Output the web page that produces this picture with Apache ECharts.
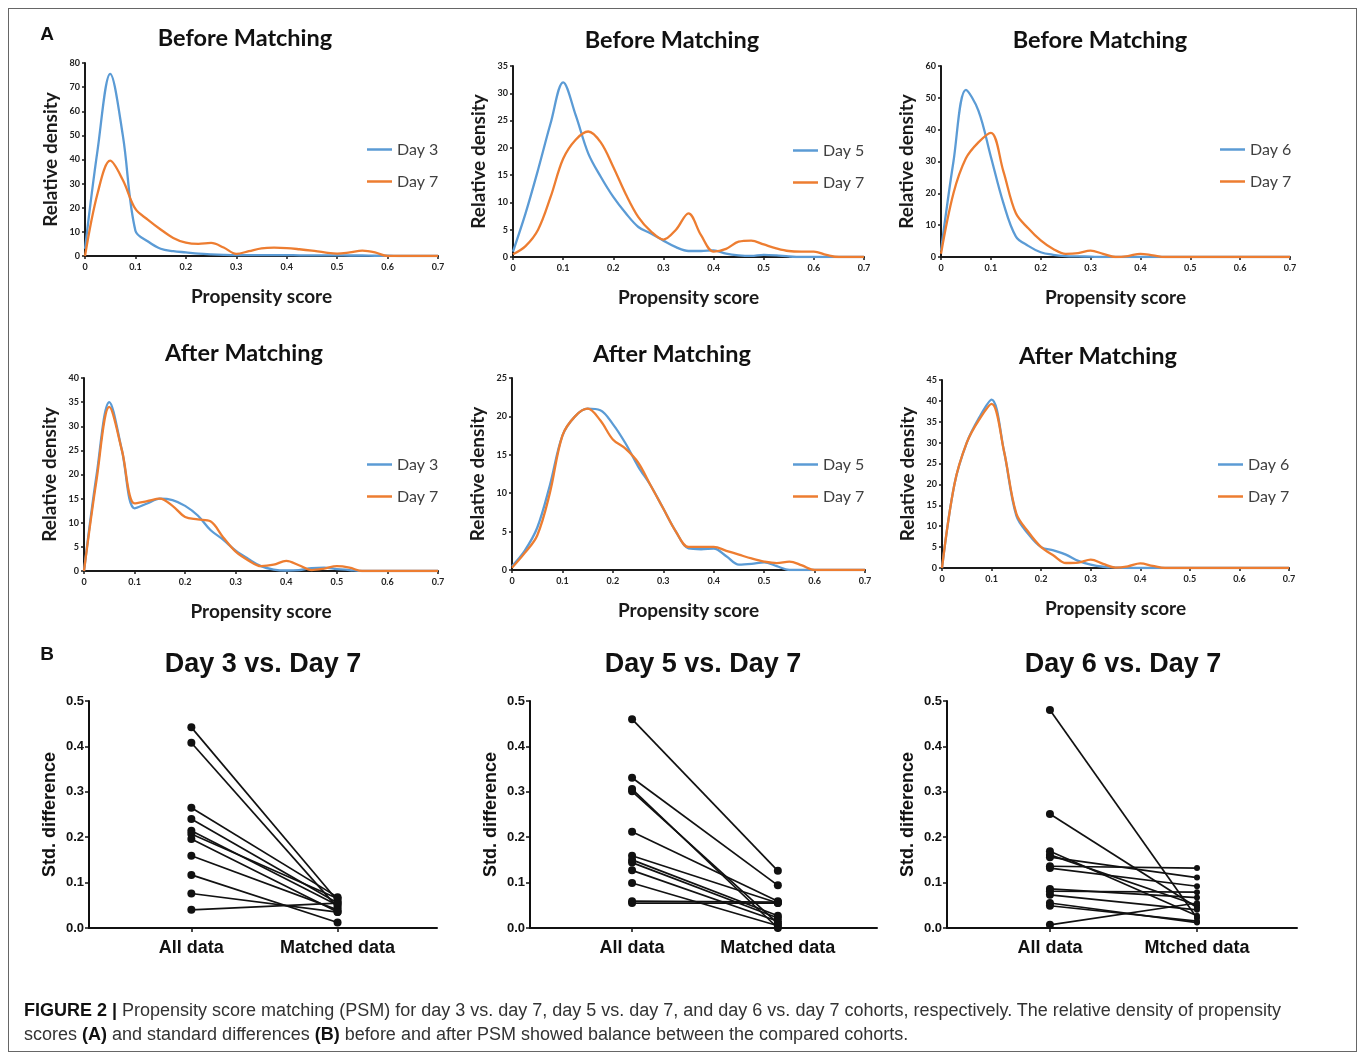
<!DOCTYPE html>
<html>
<head>
<meta charset="utf-8">
<script src="https://cdn.jsdelivr.net/npm/echarts@6/dist/echarts.min.js"></script>
<style>
  html, body { margin: 0; padding: 0; background: #fff; }
  #frame { position: absolute; left: 8px; top: 8px; width: 1349px; height: 1044px; box-sizing: border-box; border: 1.5px solid #666; }
  #chart { position: absolute; left: 0; top: 0; width: 1358px; height: 1053px; }
  #caption { position: absolute; left: 24px; top: 998px; font: 18px 'Liberation Sans', Arial, sans-serif; line-height: 24px; color: #333; white-space: nowrap; }
  #caption b { color: #111; }
</style>
</head>
<body>
<div id="frame"></div>
<div id="chart"></div>
<div id="caption"><b>FIGURE 2 |</b> Propensity score matching (PSM) for day 3 vs. day 7, day 5 vs. day 7, and day 6 vs. day 7 cohorts, respectively. The relative density of propensity<br>scores <b>(A)</b> and standard differences <b>(B)</b> before and after PSM showed balance between the compared cohorts.</div>
<script>
// propensity score grid shared by all density curves
const score = [0, 0.025, 0.05, 0.075, 0.1, 0.125, 0.15, 0.175, 0.2, 0.225, 0.25, 0.275, 0.3, 0.325, 0.35,
  0.375, 0.4, 0.425, 0.45, 0.475, 0.5, 0.525, 0.55, 0.575, 0.6, 0.625, 0.65, 0.675, 0.7]

// before matching
const beforeDay3 = [3, 44, 75.5, 50, 10.5, 6, 3, 2, 1.5, 1, 0.7, 0.5, 0.4, 0.4, 0.4, 0.4, 0.4, 0.3, 0.3, 0.3, 0.3, 0.2, 0.2, 0.1, 0.1, 0, 0, 0, 0]
const beforeDay7a = [0, 26, 39.5, 31.5, 19.5, 15, 11, 7.5, 5.5, 5, 5.4, 3.5, 0.9, 2, 3.2, 3.5, 3.3, 2.8, 2.2, 1.5, 1, 1.5, 2.2, 1.5, 0, 0, 0, 0, 0]
const beforeDay5 = [1, 8, 16, 24.5, 32, 26, 19, 14.7, 11, 8, 5.5, 4.3, 3, 1.8, 1.1, 1.1, 1.2, 0.6, 0.3, 0.2, 0.4, 0.3, 0.1, 0, 0, 0, 0, 0, 0]
const beforeDay7b = [0.5, 2, 5, 11, 18, 21.5, 23, 21, 16.5, 11.5, 7.3, 4.7, 3.2, 5, 8, 4, 1, 1.5, 2.8, 3, 2.3, 1.6, 1.1, 1, 1, 0.4, 0, 0, 0]
const beforeDay6 = [2, 30, 52.5, 46, 31.5, 17, 6.5, 3.5, 1.5, 0.7, 0.3, 0.2, 0.1, 0, 0, 0, 0, 0, 0, 0, 0, 0, 0, 0, 0, 0, 0, 0, 0]
const beforeDay7c = [1, 20, 31, 36, 39, 27, 13.8, 9, 5.2, 2.5, 1, 1.2, 2, 1, 0, 0.3, 1, 0.5, 0, 0, 0, 0, 0, 0, 0, 0, 0, 0, 0]

// after matching
const afterDay3 = [0, 20, 35, 25, 13, 14, 15, 14.7, 13.5, 11.5, 8.5, 6.5, 4.2, 2.5, 1, 0.3, 0.1, 0.2, 0.6, 0.7, 0.4, 0.2, 0, 0, 0, 0, 0, 0, 0]
const afterDay7a = [0, 19, 34, 25, 14, 14.5, 15, 13.5, 11.2, 10.7, 10.3, 7, 4, 2.2, 1, 1.3, 2.1, 1.2, 0.2, 0.5, 1, 0.7, 0, 0, 0, 0, 0, 0, 0]
const afterDay5 = [0.5, 2.5, 5.5, 11, 17.5, 20, 21, 20.8, 19, 16.5, 13.5, 11, 8, 5, 2.8, 2.7, 2.8, 1.8, 0.7, 0.8, 1, 0.5, 0, 0, 0, 0, 0, 0, 0]
const afterDay7b = [0.3, 2.2, 4.5, 10, 17.5, 20, 21, 19.5, 17, 15.8, 14, 11, 8, 5, 3, 3, 3, 2.5, 2, 1.5, 1.1, 0.9, 1.1, 0.6, 0, 0, 0, 0, 0]
const afterDay6 = [0, 20, 30, 36, 40.3, 28, 12.5, 8, 5, 4.2, 3.2, 1.7, 0.8, 0.3, 0.1, 0, 0, 0, 0, 0, 0, 0, 0, 0, 0, 0, 0, 0, 0]
const afterDay7c = [0, 20, 30, 35.5, 39.3, 28, 13, 8.5, 5, 3, 1.2, 1.3, 2, 1, 0.1, 0.4, 1.1, 0.5, 0, 0, 0, 0, 0, 0, 0, 0, 0, 0, 0]

// standardized differences, paired by index
const allDay3 = [0.442, 0.408, 0.265, 0.240, 0.214, 0.207, 0.196, 0.159, 0.117, 0.076, 0.040]
const matchedDay3 = [0.060, 0.045, 0.068, 0.055, 0.050, 0.065, 0.035, 0.040, 0.012, 0.035, 0.055]
const allDay5 = [0.460, 0.331, 0.306, 0.301, 0.212, 0.159, 0.150, 0.144, 0.127, 0.099, 0.059, 0.055]
const matchedDay5 = [0.126, 0.094, 0.000, 0.010, 0.059, 0.055, 0.027, 0.022, 0.015, 0.005, 0.057, 0.055]
const allDay6 = [0.480, 0.251, 0.169, 0.161, 0.156, 0.136, 0.132, 0.086, 0.081, 0.073, 0.055, 0.049, 0.007]
const matchedDay6 = [0.022, 0.045, 0.027, 0.050, 0.111, 0.132, 0.092, 0.067, 0.079, 0.040, 0.012, 0.015, 0.055]

const densityTitles = ['Before Matching', 'Before Matching', 'Before Matching', 'After Matching', 'After Matching', 'After Matching']
const earlyNames = ['Day 3', 'Day 5', 'Day 6', 'Day 3', 'Day 5', 'Day 6']
const earlyCurves = [beforeDay3, beforeDay5, beforeDay6, afterDay3, afterDay5, afterDay6]
const day7Curves = [beforeDay7a, beforeDay7b, beforeDay7c, afterDay7a, afterDay7b, afterDay7c]
const yMaxA = [80, 35, 60, 40, 25, 45]
const yStepA = [10, 5, 10, 5, 5, 5]

const pairTitles = ['Day 3 vs. Day 7', 'Day 5 vs. Day 7', 'Day 6 vs. Day 7']
const pairLabels = [['All data', 'Matched data'], ['All data', 'Matched data'], ['All data', 'Mtched data']]
const allData = [allDay3, allDay5, allDay6]
const matchedData = [matchedDay3, matchedDay5, matchedDay6]

const BLUE = '#5b9bd5'
const ORANGE = '#ed7d31'
const INK = '#1a1a1a'
const CAL = 'Lato, "Open Sans", sans-serif'
const ARIAL = '"Liberation Sans", Arial, sans-serif'

const gridsA = [
  { left: 85, top: 63, width: 353, height: 193 },
  { left: 513, top: 66, width: 351, height: 191 },
  { left: 941, top: 66, width: 349, height: 191 },
  { left: 84, top: 378, width: 354, height: 193 },
  { left: 512, top: 378, width: 353, height: 192 },
  { left: 942, top: 380, width: 347, height: 188 },
]
const gridsB = [
  { left: 89, top: 701, width: 348, height: 227 },
  { left: 530, top: 701, width: 347, height: 227 },
  { left: 947, top: 701, width: 350, height: 227 },
]
const legendPos = [[362, 136], [788, 137], [1215, 136], [362, 451], [788, 451], [1213, 451]]
const titlePosA = [[245, 38], [672, 40], [1100, 40], [244, 353], [672, 354], [1098, 356]]
const titlePosB = [[263, 665], [703, 665], [1123, 665]]

const chart = echarts.init(document.getElementById('chart'))

const grid = [...gridsA, ...gridsB].map((g) => ({ ...g, containLabel: false, outerBoundsMode: 'none' }))
const xAxis = []
const yAxis = []
const series = []
const legend = []

gridsA.forEach((g, i) => {
  xAxis.push({
    gridIndex: i, type: 'value', min: 0, max: 0.7, interval: 0.1,
    name: 'Propensity score', nameLocation: 'middle', nameGap: 31,
    nameTextStyle: { fontFamily: CAL, fontWeight: 'bold', fontSize: 19, color: INK },
    axisLine: { show: true, onZero: false, lineStyle: { color: INK, width: 2 } },
    axisTick: { show: true, length: 3, lineStyle: { color: INK, width: 1.5 } },
    axisLabel: { margin: 7, fontFamily: CAL, fontWeight: 'bold', fontSize: 9, color: '#222',
      formatter: (v) => (v === 0 ? '0' : v.toFixed(1)) },
    splitLine: { show: false },
  })
  yAxis.push({
    gridIndex: i, type: 'value', min: 0, max: yMaxA[i], interval: yStepA[i],
    name: 'Relative density', nameLocation: 'middle', nameGap: 25, nameRotate: 90,
    nameTextStyle: { fontFamily: CAL, fontWeight: 'bold', fontSize: 19, color: INK },
    axisLine: { show: true, lineStyle: { color: INK, width: 2 } },
    axisTick: { show: true, length: 3, lineStyle: { color: INK, width: 1.5 } },
    axisLabel: { margin: 5, fontFamily: CAL, fontWeight: 'bold', fontSize: 9, color: '#222' },
    splitLine: { show: false },
  })
  ;[[earlyNames[i], earlyCurves[i], BLUE], ['Day 7', day7Curves[i], ORANGE]].forEach(([name, vals, color]) => {
    series.push({
      type: 'line', name, xAxisIndex: i, yAxisIndex: i,
      data: score.map((s, k) => [s, vals[k]]),
      smooth: 0.35, symbol: 'none', silent: true,
      lineStyle: { color, width: 2.3 }, itemStyle: { color },
    })
  })
  legend.push({
    orient: 'vertical', left: legendPos[i][0], top: legendPos[i][1],
    data: [earlyNames[i], 'Day 7'], icon: 'rect', itemWidth: 25, itemHeight: 2.5, itemGap: 15,
    textStyle: { fontFamily: CAL, fontSize: 16, color: '#404040', lineHeight: 17 },
    selectedMode: false,
  })
})

gridsB.forEach((g, j) => {
  const gi = gridsA.length + j
  xAxis.push({
    gridIndex: gi, type: 'value', min: 0.3, max: 2.68,
    axisLine: { show: true, onZero: false, lineStyle: { color: '#111', width: 2 } },
    axisTick: { show: true, customValues: [1, 2], length: 4, lineStyle: { color: '#111', width: 1.5 } },
    axisLabel: { customValues: [1, 2], margin: 11, fontFamily: ARIAL, fontWeight: 'bold', fontSize: 18, color: '#111',
      formatter: (v) => pairLabels[j][Math.round(v) - 1] },
    splitLine: { show: false },
  })
  yAxis.push({
    gridIndex: gi, type: 'value', min: 0, max: 0.5, interval: 0.1,
    name: 'Std. difference', nameLocation: 'middle', nameGap: 30, nameRotate: 90,
    nameTextStyle: { fontFamily: ARIAL, fontWeight: 'bold', fontSize: 18, color: '#111' },
    axisLine: { show: true, lineStyle: { color: '#111', width: 2 } },
    axisTick: { show: true, length: 4, lineStyle: { color: '#111', width: 1.5 } },
    axisLabel: { margin: 5, fontFamily: ARIAL, fontWeight: 'bold', fontSize: 13, color: '#111',
      formatter: (v) => v.toFixed(1) },
    splitLine: { show: false },
  })
  allData[j].forEach((a, k) => {
    series.push({
      type: 'line', xAxisIndex: gi, yAxisIndex: gi, silent: true,
      data: [[1, a], [2, matchedData[j][k]]],
      symbol: 'circle', symbolSize: (v) => (j === 2 && v[0] === 2 ? 6 : 8),
      lineStyle: { color: '#111', width: 1.7 }, itemStyle: { color: '#111' },
    })
  })
})

const graphic = []
densityTitles.forEach((t, i) => {
  graphic.push({ type: 'text', x: titlePosA[i][0], y: titlePosA[i][1],
    style: { text: t, font: 'bold 23.5px ' + CAL, fill: '#111', align: 'center', verticalAlign: 'middle', textAlign: 'center', textVerticalAlign: 'middle' } })
})
pairTitles.forEach((t, j) => {
  graphic.push({ type: 'text', x: titlePosB[j][0], y: titlePosB[j][1],
    style: { text: t, font: 'bold 27px ' + ARIAL, fill: '#111', align: 'center', verticalAlign: 'middle', textAlign: 'center', textVerticalAlign: 'middle' } })
})
;[['A', 47, 35], ['B', 47, 655]].forEach(([t, x, y]) => {
  graphic.push({ type: 'text', x, y,
    style: { text: t, font: 'bold 19px ' + ARIAL, fill: '#111', align: 'center', verticalAlign: 'middle', textAlign: 'center', textVerticalAlign: 'middle' } })
})

chart.setOption({
  animation: false,
  backgroundColor: 'transparent',
  grid, xAxis, yAxis, series, legend, graphic,
})
</script>
</body>
</html>
